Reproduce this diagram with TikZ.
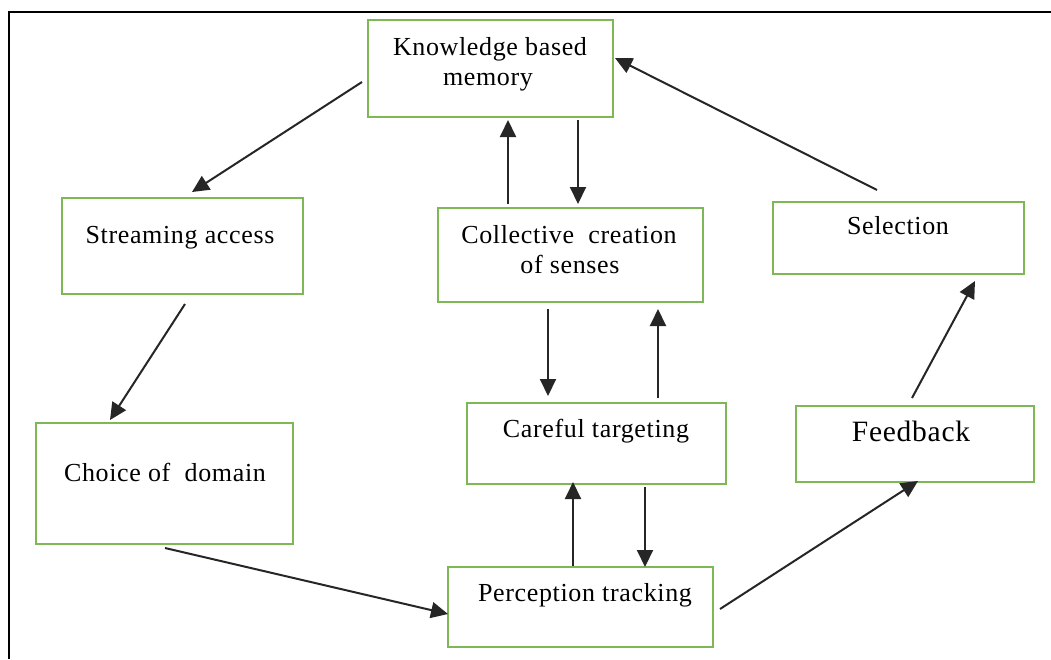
\documentclass[tikz,border=0pt]{standalone}
\usepackage{fontspec}
\setmainfont[LetterSpace=2.5]{Liberation Serif}
\usetikzlibrary{arrows.meta}
\definecolor{boxgreen}{RGB}{126,184,86}
\begin{document}
\begin{tikzpicture}[x=1pt,y=-1pt,
  box/.style={draw=boxgreen, line width=1.6pt, inner sep=0pt, rectangle},
  txt/.style={anchor=base, inner sep=0pt, font=\fontsize{26}{30}\selectfont},
  bigtxt/.style={anchor=base, inner sep=0pt, font=\fontsize{29.5}{34}\selectfont},
  arr/.style={draw=black!85, line width=2pt, -{Triangle[length=17pt,width=16pt]}}]
\useasboundingbox (0,0) rectangle (1051,659);
% frame
\draw[line width=2.2pt] (9,659) -- (9,12) -- (1051,12);
% boxes
\node[box, minimum width=245pt, minimum height=97pt] (kbm) at (490.5,68.5) {};
\node[box, minimum width=241pt, minimum height=96pt] (stream) at (182.5,246) {};
\node[box, minimum width=265pt, minimum height=94pt] (coll) at (570.5,255) {};
\node[box, minimum width=251pt, minimum height=72pt] (sel) at (898.5,238) {};
\node[box, minimum width=257pt, minimum height=121pt] (choice) at (164.5,483.5) {};
\node[box, minimum width=259pt, minimum height=81pt] (care) at (596.5,443.5) {};
\node[box, minimum width=238pt, minimum height=76pt] (feed) at (915,444) {};
\node[box, minimum width=265pt, minimum height=80pt] (perc) at (580.5,607) {};
% texts
\node[txt] (kbmA) at (490,55) {Knowledge based};
\node[txt] (kbmB) at (488,85) {memory};
\node[txt] (streamT) at (180,243) {Streaming access};
\node[txt] (collA) at (569,243) {Collective\ \ creation};
\node[txt] (collB) at (570,273) {of senses};
\node[txt] (selT) at (898,234) {Selection};
\node[txt] (choiceT) at (165,481) {Choice of\ \ domain};
\node[txt] (careT) at (596,437) {Careful targeting};
\node[bigtxt] (feedT) at (911,441) {Feedback};
\node[txt] (percT) at (585,601) {Perception tracking};
% connector end points
\coordinate (a1s) at (362,82);  \coordinate (a1e) at (192,192);
\coordinate (a2s) at (185,304); \coordinate (a2e) at (110,420);
\coordinate (a3s) at (165,548); \coordinate (a3e) at (448,614);
\coordinate (a4s) at (720,609); \coordinate (a4e) at (918,481);
\coordinate (a5s) at (912,398); \coordinate (a5e) at (975,281);
\coordinate (a6s) at (877,190); \coordinate (a6e) at (615,58);
\coordinate (a7s) at (508,204); \coordinate (a7e) at (508,120);
\coordinate (a8s) at (578,120); \coordinate (a8e) at (578,204);
\coordinate (a9s) at (548,309); \coordinate (a9e) at (548,396);
\coordinate (a10s) at (658,398); \coordinate (a10e) at (658,309);
\coordinate (a11s) at (573,566); \coordinate (a11e) at (573,482);
\coordinate (a12s) at (645,487); \coordinate (a12e) at (645,567);
% connectors
\draw[arr] (a1s) -- (a1e);
\draw[arr] (a2s) -- (a2e);
\draw[arr] (a3s) -- (a3e);
\draw[arr] (a4s) -- (a4e);
\draw[arr] (a5s) -- (a5e);
\draw[arr] (a6s) -- (a6e);
\draw[arr] (a7s) -- (a7e);
\draw[arr] (a8s) -- (a8e);
\draw[arr] (a9s) -- (a9e);
\draw[arr] (a10s) -- (a10e);
\draw[arr] (a11s) -- (a11e);
\draw[arr] (a12s) -- (a12e);
\end{tikzpicture}
\end{document}
